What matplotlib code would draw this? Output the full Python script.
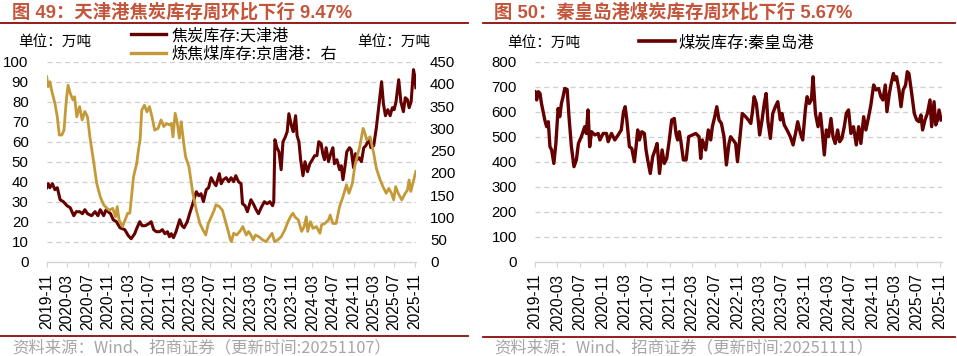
import matplotlib
matplotlib.use("Agg")
import matplotlib.pyplot as plt
import matplotlib.dates as mdates
from matplotlib.lines import Line2D
import pandas as pd

# ---------------- data ----------------
tj_dates = ['2019-11-01','2019-11-10','2019-11-20','2019-12-05','2019-12-20','2020-01-03','2020-01-20','2020-02-08',
            '2020-03-01','2020-03-20','2020-04-10','2020-04-25','2020-05-15','2020-06-01','2020-06-15','2020-07-01',
            '2020-07-25','2020-08-15','2020-09-01','2020-09-15','2020-10-05','2020-10-20','2020-11-01','2020-11-15',
            '2020-12-01','2020-12-20','2021-01-10','2021-02-08','2021-03-01','2021-03-18','2021-04-08','2021-04-22',
            '2021-05-08','2021-05-22','2021-06-10','2021-07-01','2021-07-15','2021-07-30','2021-08-15','2021-09-03',
            '2021-09-20','2021-10-05','2021-10-20','2021-11-01','2021-11-12','2021-11-25','2021-12-10','2022-01-01',
            '2022-01-15','2022-01-27','2022-02-15','2022-03-01','2022-03-20','2022-04-10','2022-04-25','2022-05-08',
            '2022-05-22','2022-06-08','2022-06-22','2022-07-07','2022-07-20','2022-08-05','2022-08-25','2022-09-05',
            '2022-09-18','2022-10-05','2022-10-20','2022-11-03','2022-11-18','2022-12-01','2022-12-17','2023-01-01',
            '2023-01-10','2023-01-25','2023-02-08','2023-03-01','2023-03-15','2023-04-01','2023-04-15','2023-05-01',
            '2023-05-20','2023-06-05','2023-06-22','2023-07-08','2023-07-15','2023-07-22','2023-08-03','2023-08-15',
            '2023-08-28','2023-09-08','2023-09-20','2023-10-03','2023-10-13','2023-10-28','2023-11-08','2023-11-22',
            '2023-12-01','2023-12-12','2023-12-22','2024-01-05','2024-01-17','2024-02-01','2024-02-15','2024-03-01',
            '2024-03-14','2024-03-28','2024-04-08','2024-04-22','2024-05-02','2024-05-12','2024-05-22','2024-06-05',
            '2024-06-18','2024-07-01','2024-07-10','2024-07-25','2024-08-10','2024-08-20','2024-08-30','2024-09-10',
            '2024-09-22','2024-10-08','2024-10-18','2024-11-01','2024-11-12','2024-11-22','2024-12-05','2024-12-18',
            '2025-01-01','2025-01-13','2025-01-25','2025-02-03','2025-02-12','2025-03-01','2025-03-17','2025-04-05',
            '2025-04-17','2025-04-28','2025-05-10','2025-05-24','2025-06-07','2025-06-20','2025-07-01','2025-07-12',
            '2025-07-28','2025-08-10','2025-08-25','2025-09-05','2025-09-18','2025-09-28','2025-10-10','2025-10-24',
            '2025-10-31','2025-11-07']
tj_coke = [37, 39, 37, 39, 36, 37, 31, 30,
           28, 27, 23, 25, 25, 24, 26, 24,
           23, 25, 23, 26, 23, 26, 25, 24,
           21, 20, 17, 16, 13, 11.5, 14, 17,
           20, 18, 18, 19, 20, 16, 15, 15,
           16, 14, 15, 12.5, 14, 12, 15, 21,
           18, 17, 20, 24, 29, 35, 33, 34,
           30, 36, 37, 42, 40, 38, 44, 39,
           41, 42, 40, 42, 40, 43, 40, 39,
           29, 28, 25, 31, 29, 26, 24, 27,
           30, 29, 30, 28, 30, 61, 57, 55,
           46, 60, 62, 65, 74, 68, 65, 73,
           63, 60, 51, 43, 50, 45, 49, 51,
           53, 53, 60, 59, 54, 51, 57, 50,
           54, 57, 49, 51, 46, 48, 41, 47,
           55, 57, 56, 47, 54, 51, 52, 50,
           57, 58, 60, 61, 57, 58, 67, 81,
           90, 79, 73, 76, 73, 77, 76, 80,
           91, 80, 75, 82, 81, 77, 80, 96,
           93, 87]

jt_dates = ['2019-11-01','2019-11-10','2019-11-20','2019-11-30','2019-12-20','2020-01-03','2020-01-15','2020-01-30',
            '2020-02-12','2020-02-25','2020-03-07','2020-03-20','2020-04-05','2020-04-15','2020-04-28','2020-05-15',
            '2020-05-30','2020-06-15','2020-07-01','2020-07-15','2020-08-05','2020-08-25','2020-09-15','2020-10-05',
            '2020-10-25','2020-11-08','2020-11-28','2020-12-15','2020-12-25','2021-01-05','2021-01-25','2021-02-10',
            '2021-02-25','2021-03-10','2021-04-01','2021-04-20','2021-04-30','2021-05-10','2021-05-20','2021-06-05',
            '2021-06-20','2021-07-05','2021-07-20','2021-08-05','2021-08-25','2021-09-12','2021-09-28','2021-10-15',
            '2021-11-01','2021-11-12','2021-11-22','2021-12-05','2021-12-18','2021-12-30','2022-01-10','2022-01-25',
            '2022-02-05','2022-02-25','2022-03-20','2022-04-10','2022-05-01','2022-05-20','2022-06-05','2022-06-20',
            '2022-07-08','2022-07-25','2022-08-05','2022-08-25','2022-09-12','2022-09-28','2022-10-15','2022-10-30',
            '2022-11-05','2022-11-18','2022-12-05','2022-12-25','2023-01-12','2023-02-01','2023-02-15','2023-03-01',
            '2023-03-15','2023-03-28','2023-04-18','2023-05-10','2023-05-30','2023-06-20','2023-07-05','2023-07-20',
            '2023-08-08','2023-08-28','2023-09-18','2023-10-08','2023-10-22','2023-11-06','2023-11-18','2023-12-08',
            '2023-12-28','2024-01-12','2024-01-25','2024-02-02','2024-02-18','2024-03-05','2024-03-25','2024-04-15',
            '2024-04-25','2024-05-15','2024-06-05','2024-06-15','2024-07-01','2024-07-20','2024-08-10','2024-08-30',
            '2024-09-20','2024-10-05','2024-10-25','2024-11-08','2024-11-22','2024-12-08','2024-12-28','2025-01-08',
            '2025-01-18','2025-02-08','2025-03-01','2025-03-17','2025-04-05','2025-04-25','2025-05-15','2025-05-30',
            '2025-06-15','2025-06-28','2025-07-10','2025-07-25','2025-08-15','2025-09-05','2025-09-18','2025-09-28',
            '2025-10-08','2025-10-20','2025-11-07']
jt_coal = [416, 394, 405, 386, 356, 326, 285, 285,
           296, 360, 397, 379, 364, 371, 326, 349,
           319, 338, 326, 281, 229, 176, 146, 128,
           120, 116, 120, 101, 124, 94, 79, 94,
           109, 109, 191, 221, 251, 274, 341, 352,
           337, 349, 326, 296, 300, 319, 304, 311,
           308, 311, 281, 334, 311, 278, 315, 266,
           236, 214, 154, 116, 86, 71, 60, 86,
           101, 116, 128, 124, 116, 94, 71, 49,
           45, 64, 60, 68, 79, 60, 68, 60,
           49, 60, 56, 49, 45, 56, 64, 45,
           49, 56, 71, 90, 101, 109, 101, 94,
           68, 79, 101, 68, 90, 75, 79, 64,
           83, 86, 94, 105, 86, 86, 124, 146,
           173, 154, 176, 214, 236, 259, 300, 289,
           274, 281, 244, 210, 188, 169, 154, 165,
           154, 139, 169, 154, 139, 154, 161, 184,
           158, 176, 203]

qhd_dates = ['2019-11-01','2019-11-10','2019-11-19','2019-11-28','2019-12-06','2019-12-24','2020-01-03','2020-01-12',
             '2020-01-21','2020-01-30','2020-02-11','2020-02-22','2020-03-05','2020-03-14','2020-03-23','2020-04-01',
             '2020-04-10','2020-04-23','2020-05-03','2020-05-16','2020-05-30','2020-06-12','2020-06-23','2020-07-09',
             '2020-07-27','2020-08-05','2020-08-14','2020-08-23','2020-09-02','2020-09-20','2020-10-08','2020-10-17',
             '2020-11-04','2020-11-22','2020-12-01','2020-12-19','2021-01-06','2021-01-24','2021-02-10','2021-02-22',
             '2021-03-03','2021-03-12','2021-03-26','2021-04-08','2021-04-22','2021-05-01','2021-05-10','2021-05-19',
             '2021-06-01','2021-06-15','2021-06-24','2021-07-03','2021-07-17','2021-07-30','2021-08-12','2021-08-23',
             '2021-09-05','2021-09-19','2021-10-01','2021-10-14','2021-10-28','2021-11-10','2021-11-24','2021-12-03',
             '2021-12-12','2021-12-21','2021-12-30','2022-01-12','2022-01-27','2022-02-10','2022-03-02','2022-03-20',
             '2022-04-07','2022-04-16','2022-04-25','2022-05-13','2022-05-27','2022-06-09','2022-06-18','2022-07-01',
             '2022-07-12','2022-07-24','2022-08-06','2022-08-20','2022-09-02','2022-09-16','2022-09-25','2022-10-08',
             '2022-10-22','2022-11-01','2022-11-13','2022-11-27','2022-12-15','2022-12-30','2023-01-12','2023-01-21',
             '2023-01-30','2023-02-11','2023-02-21','2023-03-01','2023-03-14','2023-03-26','2023-04-05','2023-04-15',
             '2023-04-28','2023-05-11','2023-05-25','2023-06-07','2023-06-21','2023-06-30','2023-07-12','2023-07-27',
             '2023-08-14','2023-08-29','2023-09-11','2023-09-23','2023-10-08','2023-10-20','2023-11-04','2023-11-13',
             '2023-11-25','2023-12-06','2023-12-15','2023-12-28','2024-01-11','2024-01-24','2024-02-02','2024-02-14',
             '2024-02-25','2024-03-08','2024-03-21','2024-04-01','2024-04-13','2024-04-26','2024-05-07','2024-05-19',
             '2024-06-01','2024-06-12','2024-06-24','2024-07-07','2024-07-21','2024-08-05','2024-08-18','2024-08-30',
             '2024-09-14','2024-09-26','2024-10-11','2024-10-23','2024-11-07','2024-11-20','2024-12-04','2024-12-16',
             '2024-12-27','2025-01-09','2025-01-18','2025-01-31','2025-02-10','2025-02-22','2025-03-02','2025-03-11',
             '2025-03-24','2025-04-04','2025-04-16','2025-04-29','2025-05-08','2025-05-17','2025-06-01','2025-06-15',
             '2025-06-28','2025-07-10','2025-07-21','2025-07-30','2025-08-12','2025-08-25','2025-09-08','2025-09-17',
             '2025-09-30','2025-10-09','2025-10-19','2025-10-27','2025-11-07']
qhd_coal = [680, 647, 680, 673, 633, 567, 540, 560,
            460, 447, 393, 473, 613, 580, 633, 660,
            693, 689, 580, 460, 380, 407, 473, 500,
            540, 513, 607, 460, 520, 507, 513, 487,
            513, 513, 480, 513, 487, 507, 527, 600,
            620, 567, 460, 453, 400, 460, 527, 487,
            520, 513, 447, 407, 353, 420, 447, 473,
            353, 447, 393, 413, 487, 567, 573, 513,
            487, 520, 480, 407, 407, 500, 507, 513,
            500, 413, 487, 447, 527, 487, 540, 580,
            620, 567, 553, 500, 387, 473, 500, 487,
            473, 400, 487, 593, 580, 567, 553, 600,
            660, 633, 567, 507, 567, 633, 673, 560,
            493, 593, 620, 640, 567, 593, 547, 527,
            500, 467, 513, 560, 513, 487, 613, 660,
            633, 647, 740, 593, 540, 593, 527, 427,
            527, 500, 573, 500, 473, 527, 480, 493,
            540, 593, 607, 513, 540, 467, 540, 473,
            580, 527, 580, 627, 707, 687, 693, 660,
            647, 707, 600, 673, 713, 753, 727, 740,
            687, 620, 687, 707, 760, 753, 673, 593,
            567, 560, 587, 527, 567, 593, 647, 540,
            640, 547, 567, 607, 567]

tick_labels = ['2019-11','2020-03','2020-07','2020-11','2021-03','2021-07','2021-11','2022-03','2022-07',
               '2022-11','2023-03','2023-07','2023-11','2024-03','2024-07','2024-11','2025-03','2025-07','2025-11']

left_title = '图 49：天津港焦炭库存周环比下行 9.47%'
right_title = '图 50：秦皇岛港煤炭库存周环比下行 5.67%'
left_source = '资料来源：Wind、招商证券（更新时间:20251107）'
right_source = '资料来源：Wind、招商证券（更新时间:20251111）'
unit = '单位：万吨'
name_tj = '焦炭库存:天津港'
name_jt = '炼焦煤库存:京唐港：右'
name_qhd = '煤炭库存:秦皇岛港'

# ---------------- style ----------------
DARK = '#650000'
GOLD = '#C49A38'
TITLE_C = '#C4553A'
RULE_C = '#8B0A0A'
GRID_C = '#CFCFCF'
AX_C = '#D4D4D4'
LAT = ['Liberation Sans', 'Noto Sans CJK SC', 'DejaVu Sans']
CJK = ['Noto Sans CJK SC', 'Liberation Sans', 'DejaVu Sans']

plt.rcParams['font.family'] = LAT
W, H = 957, 356
fig = plt.figure(figsize=(W / 100, H / 100), dpi=100)

def fx(px):
    return px / W

def fy(py):
    return 1 - py / H

tick_pos = pd.to_datetime(tick_labels)

def style_axis(ax, ymax, ystep, pad):
    for s in ['top', 'right', 'left']:
        ax.spines[s].set_visible(False)
    ax.spines['bottom'].set_color(AX_C)
    ax.spines['bottom'].set_linewidth(1.0)
    ax.set_ylim(0, ymax)
    ax.set_yticks(range(0, ymax + 1, ystep))
    ax.tick_params(axis='y', length=0, labelsize=10.8, pad=pad, labelcolor='#000000')
    ax.set_xticks(tick_pos)
    ax.set_xticklabels(tick_labels, rotation=90, fontsize=11.2)
    ax.tick_params(axis='x', length=3.5, width=0.8, color=AX_C, pad=5)
    for v in range(ystep, ymax + 1, ystep):
        ax.axhline(v, color=GRID_C, lw=0.9, ls=(0, (4, 3)), zorder=0)

# ---------------- left chart ----------------
x_end_l = pd.Timestamp('2025-11-08')
axL = fig.add_axes([fx(46.7), fy(261.7), fx(416 - 46.7), (261.7 - 61.7) / H])
style_axis(axL, 100, 10, 13)
axL.set_xlim(pd.Timestamp('2019-11-01'), x_end_l)
axL2 = axL.twinx()
for s in ['top', 'right', 'left', 'bottom']:
    axL2.spines[s].set_visible(False)
axL2.set_ylim(0, 450)
axL2.set_yticks(range(0, 451, 50))
axL2.tick_params(axis='y', length=0, labelsize=10.8, pad=10)
axL.plot(pd.to_datetime(tj_dates), tj_coke, color=DARK, lw=2.2, zorder=3, solid_joinstyle='round')
axL2.plot(pd.to_datetime(jt_dates), jt_coal, color=GOLD, lw=2.0, zorder=3, solid_joinstyle='round')

h1 = Line2D([], [], color=DARK, lw=2.4)
h2 = Line2D([], [], color=GOLD, lw=2.4)
fig.legend([h1, h2], [name_tj, name_jt], loc='upper left', bbox_to_anchor=(fx(131), fy(27)),
           frameon=False, prop={'family': CJK, 'size': 11.6}, handlelength=2.2, handletextpad=0.3,
           borderpad=0, borderaxespad=0, labelspacing=0.1)

# ---------------- right chart ----------------
axR = fig.add_axes([fx(535), fy(261.7), fx(942 - 535), (261.7 - 61.7) / H])
style_axis(axR, 800, 100, 13)
axR.set_xlim(pd.Timestamp('2019-11-01'), pd.Timestamp('2025-11-12'))
axR.plot(pd.to_datetime(qhd_dates), qhd_coal, color=DARK, lw=2.4, zorder=3, solid_joinstyle='round')
fig.legend([Line2D([], [], color=DARK, lw=2.6)], [name_qhd], loc='upper left',
           bbox_to_anchor=(fx(639), fy(34)), frameon=False, prop={'family': CJK, 'size': 11.8},
           handlelength=2.2, handletextpad=0.2, borderpad=0, borderaxespad=0)

# ---------------- titles, rules, notes ----------------
fig.text(fx(12), fy(12), left_title, fontsize=13.2, fontweight='bold', color=TITLE_C,
         va='center', ha='left', family=LAT)
fig.text(fx(494), fy(12), right_title, fontsize=13.2, fontweight='bold', color=TITLE_C,
         va='center', ha='left', family=LAT)
fig.add_artist(Line2D([0, fx(468)], [fy(22.5), fy(22.5)], color=RULE_C, lw=1.3))
fig.add_artist(Line2D([fx(483), fx(955)], [fy(22.5), fy(22.5)], color=RULE_C, lw=1.3))
fig.add_artist(Line2D([0, fx(468)], [fy(336), fy(336)], color=RULE_C, lw=1.3))
fig.add_artist(Line2D([fx(483), fx(955)], [fy(336.5), fy(336.5)], color=RULE_C, lw=1.3))

fig.text(fx(18), fy(42), unit, fontsize=10.5, family=CJK, va='center', ha='left')
fig.text(fx(357), fy(42), unit, fontsize=10.5, family=CJK, va='center', ha='left')
fig.text(fx(507), fy(43), unit, fontsize=10.5, family=CJK, va='center', ha='left')

fig.text(fx(12), fy(348), left_source, fontsize=11.8, color='#A6A6A6', family=CJK, va='center', ha='left')
fig.text(fx(494), fy(348), right_source, fontsize=11.8, color='#A6A6A6', family=CJK, va='center', ha='left')

fig.savefig('out.png', dpi=100)
